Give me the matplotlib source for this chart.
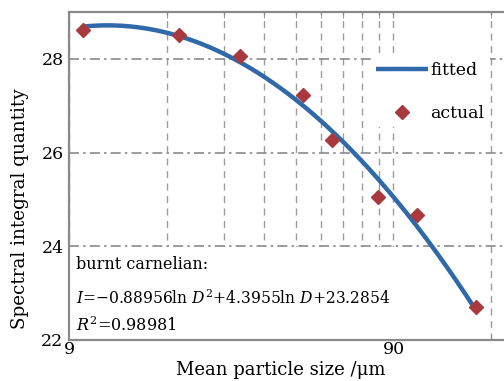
import matplotlib.pyplot as plt
import matplotlib.ticker as mticker
from matplotlib.patches import Rectangle
import numpy as np

plt.rcParams['font.family'] = 'DejaVu Serif'
plt.rcParams['mathtext.fontset'] = 'dejavuserif'

# mean particle size (um) and spectral integral quantity
size_um = [9.92, 19.7, 30.3, 47.2, 58.1, 80.6, 106.0, 161.5]
actual = [28.62, 28.51, 28.07, 27.23, 26.27, 25.06, 24.67, 22.71]

# fitted coefficients as printed on the chart
coef_a = -0.88956
coef_b = 4.3955
coef_c = 23.2854

x_major = [9, 90]
x_minor = [18, 27, 36, 45, 54, 63, 72, 81, 180]
y_ticks = [22, 24, 26, 28]

grey = '#8a8a8a'
blue = '#2f69aa'
red = '#a83a3d'

fig = plt.figure(figsize=(5.04, 3.81), dpi=100)
ax = fig.add_axes([69/504, 1-340/381, (506-69)/504, (340-12)/381])

D = np.geomspace(size_um[0], size_um[-1], 200)
lnD = np.log(D)
ax.plot(D, coef_a*lnD**2 + coef_b*lnD + coef_c, color=blue, lw=3.2,
        label='fitted', zorder=3, solid_capstyle='butt')
ax.plot(size_um, actual, 'D', color=red, ms=7, label='actual', zorder=4)

ax.set_xscale('log')
ax.set_xlim(9, 200)
ax.set_ylim(22, 29)
ax.xaxis.set_major_locator(mticker.FixedLocator(x_major))
ax.xaxis.set_minor_locator(mticker.FixedLocator(x_minor))
ax.xaxis.set_major_formatter(mticker.FixedFormatter(['9', '90']))
ax.xaxis.set_minor_formatter(mticker.NullFormatter())
ax.set_yticks(y_ticks)

ax.grid(True, axis='x', which='both', color='#9c9c9c', ls=(0, (5, 4)), lw=1.0)
ax.grid(True, axis='y', which='major', color=grey, ls=(0, (6, 2.5, 1.5, 2.5)), lw=1.2)

ax.tick_params(which='both', direction='in', top=True, color=grey,
               labelsize=12.5, pad=2)
ax.tick_params(axis='x', which='both', length=4, pad=1)
ax.tick_params(axis='y', length=0, pad=4)
for s in ax.spines.values():
    s.set_color(grey)
    s.set_linewidth(1.6)

ax.set_xlabel('Mean particle size /\u03bcm', fontsize=13, labelpad=-1)
ax.xaxis.set_label_coords((281 - 69)/437, -0.065)
fig.text(20/504, 1-209/381, 'Spectral integral quantity', rotation=90,
         ha='center', va='center', fontsize=13.2)

# white box behind the fit text
ax.add_patch(Rectangle((0.0, 0.0), 0.745, 0.285, transform=ax.transAxes,
                       facecolor='white', edgecolor='none', zorder=2))
ax.text(0.015, 0.23, 'burnt carnelian:', transform=ax.transAxes,
        fontsize=11.5, va='center', zorder=5)
ax.text(0.015, 0.125, '$I$=\u22120.88956ln $D^2$+4.3955ln $D$+23.2854',
        transform=ax.transAxes, fontsize=11.2, va='center', zorder=5)
ax.text(0.015, 0.045, '$R^2$=0.98981', transform=ax.transAxes,
        fontsize=11.5, va='center', zorder=5)

leg = ax.legend(loc='upper left', bbox_to_anchor=(362/504, 1-48/381),
                bbox_transform=fig.transFigure, fontsize=12.5, handlelength=3.0,
                handletextpad=0.15, labelspacing=1.5, borderpad=0.3,
                frameon=True, fancybox=False)
leg.get_frame().set_facecolor('white')
leg.get_frame().set_edgecolor('none')
leg.get_frame().set_alpha(1)

fig.savefig('out.png', dpi=100)
